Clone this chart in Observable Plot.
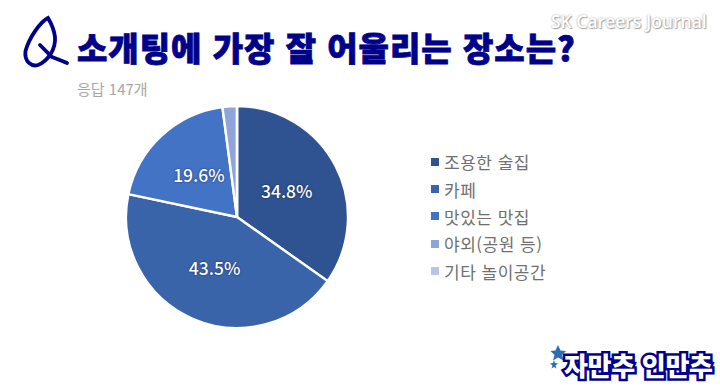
<!DOCTYPE html>
<html lang="ko"><head><meta charset="utf-8">
<script src="https://cdn.jsdelivr.net/npm/d3@7"></script>
<script src="https://cdn.jsdelivr.net/npm/@observablehq/plot@0.6"></script>
<style>
html,body{margin:0;padding:0;background:#fff;}
#wrap{position:relative;width:720px;height:390px;overflow:hidden;font-family:"Noto Sans CJK KR","Noto Sans",sans-serif;}
#wrap svg{display:block;}
.abs{position:absolute;white-space:nowrap;line-height:1;}
#title{left:77px;top:31px;font-size:33px;font-weight:900;color:#00008b;letter-spacing:1px;-webkit-text-stroke:0.8px #00008b;}
#note{left:77px;top:81px;font-size:15px;color:#a6a6a6;}
#mark{left:551px;top:13px;font-family:"Open Sans",sans-serif;font-size:17.5px;font-weight:600;color:#fff;text-shadow:0 0 2px #999,1px 1px 1px #aaa;}
#legend{left:431px;top:148px;font-size:17px;color:#707070;letter-spacing:.5px;}
#legend div{display:flex;align-items:center;height:27.4px;}
#legend i{display:block;width:8px;height:8px;margin-right:5px;}
#badge{left:564px;top:352px;font-size:26px;font-weight:900;color:#fff;letter-spacing:-0.3px;-webkit-text-stroke:5px #00008b;paint-order:stroke fill;}
</style></head><body>
<div id="wrap">
<div id="chart"></div>
<svg class="abs" style="left:0;top:0" width="90" height="80"><g fill="none" stroke="#00008b" stroke-width="3.8" stroke-linecap="round"><path d="M48 18C40 22 29 38 25.500 51C24 62 32 67 38 65C48 61 56 49 55 37C54 29 51 23 48 18Z"/><path d="M40 45L52 57Q60 60 67 63"/></g></svg>
<div class="abs" id="title"></div>
<div class="abs" id="note"></div>
<div class="abs" id="mark"></div>
<div class="abs" id="legend"></div>
<svg class="abs" style="left:545px;top:342px" width="25" height="32"><g fill="#2a6fb5"><path d="M13 3L15.500 8.500L21 9L17 13L18.500 18.500L13 15.500L8 18.500L9.500 13L5.500 9L10.500 8.500Z"/><path d="M9 18L10 21L13 21.500L10.500 23.500L11.500 26.500L9 25L6.500 26.500L7.500 23.500L5 21.500L8 21Z"/></g></svg>
<div class="abs" id="badge"></div>
</div>
<script>
const titleText = "소개팅에 가장 잘 어울리는 장소는?";
const noteText = "응답 147개";
const markText = "SK Careers Journal";
const badgeText = "자만추 인만추";
const categories = ["조용한 술집", "카페", "맛있는 맛집", "야외(공원 등)", "기타 놀이공간"];
const shares = [34.8, 43.5, 19.6, 2.1, 0];
const shareLabels = ["34.8%", "43.5%", "19.6%", "", ""];
const colors = ["#2f5391", "#3a64aa", "#4273c5", "#8fa4d8", "#b9c5e6"];

document.getElementById("title").textContent = titleText;
document.getElementById("note").textContent = noteText;
document.getElementById("mark").textContent = markText;
document.getElementById("badge").textContent = badgeText;

const rows = categories.map((name, i) => ({name, share: shares[i], label: shareLabels[i]}));
const cx = 237, cy = 217, radius = 111, labelRadius = 56;

const legend = document.getElementById("legend");
rows.forEach((r, i) => {
  const d = document.createElement("div");
  const s = document.createElement("i");
  s.style.background = colors[i];
  d.append(s, r.name);
  legend.append(d);
});

function renderPie(index, scales, values) {
  const ns = "http://www.w3.org/2000/svg";
  const g = document.createElementNS(ns, "g");
  const arc = d3.arc().innerRadius(0).outerRadius(radius);
  const labelArc = d3.arc().innerRadius(labelRadius).outerRadius(labelRadius);
  for (const i of index) {
    const a = {startAngle: values.x1[i], endAngle: values.x2[i]};
    const p = document.createElementNS(ns, "path");
    p.setAttribute("d", arc(a));
    p.setAttribute("transform", `translate(${cx},${cy})`);
    p.setAttribute("fill", values.fill[i]);
    p.setAttribute("stroke", "#fff");
    p.setAttribute("stroke-width", "2.4");
    g.append(p);
  }
  for (const i of index) {
    if (!rows[i].label) continue;
    const [lx, ly] = labelArc.centroid({startAngle: values.x1[i], endAngle: values.x2[i]});
    const t = document.createElementNS(ns, "text");
    t.setAttribute("x", cx + lx);
    t.setAttribute("y", cy + ly);
    t.setAttribute("dy", "0.36em");
    t.setAttribute("text-anchor", "middle");
    t.setAttribute("fill", "#fff");
    t.setAttribute("font-size", "17.5");
    t.setAttribute("font-weight", "500");
    t.setAttribute("font-family", "'Noto Sans CJK KR','Noto Sans',sans-serif");
    t.setAttribute("style", "text-shadow:0 0 2px rgba(0,0,30,.7)");
    t.textContent = rows[i].label;
    g.append(t);
  }
  return g;
}

const chart = Plot.plot({
  width: 720, height: 390,
  margin: 0,
  style: {background: "#fff", overflow: "visible"},
  x: {domain: [0, d3.sum(shares)], range: [0, 2 * Math.PI], axis: null},
  color: {type: "ordinal", domain: categories, range: colors},
  marks: [
    Plot.barX(rows, Plot.stackX({x: "share", fill: "name", order: null, render: renderPie}))
  ]
});
document.getElementById("chart").append(chart);
</script>
</body></html>
